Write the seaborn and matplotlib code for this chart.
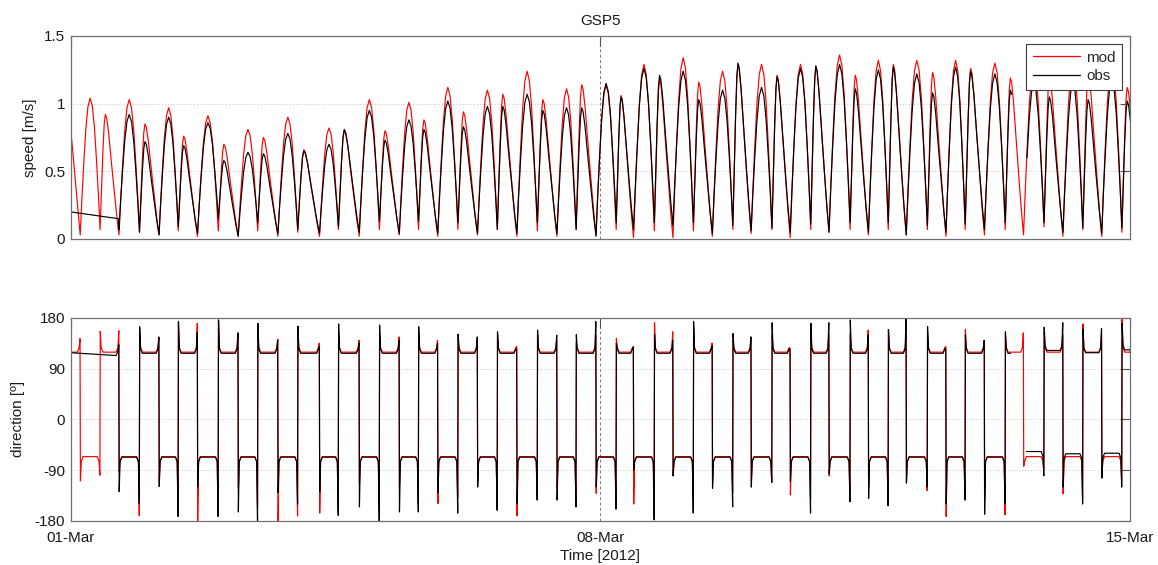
import numpy as np
import pandas as pd
import seaborn as sns
import matplotlib.pyplot as plt
from matplotlib.lines import Line2D

# ---------------------------------------------------------------------------
# Station GSP5, 01-15 March 2012. Time axis in hours after 01-Mar 00:00.
# ---------------------------------------------------------------------------

# slack-water times s0..s53 (last entry s54 lies just past 15-Mar)
slack_hr = [3.0, 9.3, 15.3, 21.8, 28.0, 34.1, 40.2, 46.8, 53.1, 59.3, 65.7, 72.0, 78.9,
            84.9, 91.5, 97.9, 104.2, 110.3, 116.4, 122.8, 129.0, 135.3, 141.5, 148.0, 154.2,
            160.3, 166.6, 173.0,
            178.5, 185.1, 191.0, 197.5, 203.5, 210.0, 215.8, 222.4, 228.2, 234.7, 240.5,
            247.2, 253.0, 259.3,
            265.0, 271.7, 277.6, 283.7, 289.8, 296.4, 302.2, 308.7, 314.7, 321.0, 327.0,
            333.4, 339.4]

# speed at each slack [m/s]
mod_min = [0.03, 0.07, 0.03, 0.05, 0.03, 0.06, 0.02, 0.06, 0.02, 0.06, 0.02, 0.05, 0.02,
           0.07, 0.02, 0.07, 0.03, 0.07, 0.02, 0.07, 0.03, 0.07, 0.02, 0.06, 0.02, 0.07, 0.03, 0.07,
           0.01, 0.06, 0.01, 0.06, 0.02, 0.07, 0.04, 0.07, 0.01, 0.07, 0.05, 0.07, 0.03, 0.07,
           0.03, 0.07, 0.02, 0.07, 0.03, 0.07, 0.03, 0.09, 0.02, 0.07, 0.02, 0.05, 0.03]
obs_min = [np.nan, np.nan, 0.07, 0.05, 0.03, 0.09, 0.04, 0.15, 0.02, 0.12, 0.04, 0.07, 0.04,
           0.09, 0.05, 0.13, 0.04, 0.13, 0.04, 0.12, 0.04, 0.07, 0.04, 0.12, 0.04, 0.07, 0.02, 0.12,
           0.07, 0.12, 0.10, 0.12, 0.04, 0.10, 0.06, 0.08, 0.05, 0.11, 0.05, 0.12, 0.05, 0.12,
           0.03, 0.10, 0.05, 0.11, 0.07, 0.12, 0.05, 0.12, 0.05, 0.08, 0.04, 0.08, 0.05]

# peak speed of each half-cycle k0..k53 (even k = ebb, odd k = flood) [m/s]
mod_peak = [1.04, 0.92, 1.03, 0.85, 0.97, 0.76, 0.91, 0.70, 0.81, 0.75, 0.90, 0.66,
            0.82, 0.80, 1.03, 0.80, 1.01, 0.88, 1.12, 0.94, 1.10, 1.07, 1.24, 1.03, 1.11, 1.14, 1.14,
            1.06, 1.29, 1.18, 1.34, 1.16, 1.24, 1.29, 1.29, 1.21, 1.29, 1.27, 1.36, 1.21, 1.32,
            1.29, 1.32, 1.23, 1.32, 1.26, 1.30, 1.19, 1.28, 1.20, 1.30, 1.22, 1.30, 1.12]
obs_peak = [np.nan, np.nan, 0.92, 0.72, 0.90, 0.69, 0.86, 0.58, 0.64, 0.63, 0.78, 0.65,
            0.70, 0.81, 0.95, 0.73, 0.88, 0.81, 1.02, 0.83, 0.98, 0.98, 1.07, 0.95, 0.97, 0.97, 1.15,
            1.05, 1.26, 1.21, 1.24, 1.03, 1.10, 1.30, 1.12, 1.20, 1.26, 1.28, 1.29, 1.11, 1.25,
            1.27, 1.22, 1.08, 1.27, 1.24, 1.22, 1.10, 1.15, 1.05, 1.15, 1.03, 1.18, 1.02]

# model speed at 01-Mar 00:00 (falling limb of the preceding flood)
mod_speed_start = 0.81

# observed record: gap-filled line before the first sample, and an outage
obs_fill_hr = [0.0]
obs_fill_speed = [0.20, 0.15]
obs_fill_dir = [118.0]
obs_first_slack = 2
obs_gap_hr = (298.6, 302.9)

# arch of a half-cycle: position within the half-cycle and height relative to its peak
ebb_frac = [0.0, 0.08, 0.17, 0.28, 0.39, 0.50, 0.61, 0.72, 0.83, 0.92]
ebb_rel = [0.0, 0.25, 0.50, 0.77, 0.94, 1.00, 0.94, 0.77, 0.50, 0.25]
flood_frac = [0.0, 0.07, 0.15, 0.22, 0.28, 0.35, 0.45, 0.60, 0.75, 0.88]
flood_rel = [0.0, 0.33, 0.68, 0.92, 1.00, 0.97, 0.85, 0.60, 0.36, 0.16]

# current direction [deg]: plateau of each half-cycle k=-1..53
mod_flood_dir = 119.0
mod_ebb_dir = -66.0
obs_dir_level = [np.nan, np.nan, 113.0,
                 -67, 117, -67, 117, -67, 117, -67, 117, -67, 117, -67, 117,
                 -67, 117, -67, 117, -67, 117, -67, 117, -67, 117, -67, 117, -67, 117,
                 -67, 117, -67, 117, -67, 117, -67, 117, -67, 117, -67, 117, -67, 117,
                 -67, 117, -67, 117, -67, 117, -57, 122, -61, 118, -60, 123]
# bend of the plateau towards the overshoot just before / after slack [deg]
dir_bend = 8.0

# direction overshoot on either side of each slack s0..s53
mod_dir_hi = [143, 156, 157, 150, 146, 170, 170, 176, 153, 150, 142, 150, 135,
              150, 140, 150, 146, 150, 140, 145, 138, 150, 129, 150, 140, 135, 150, 143,
              128, 171, 155, 160, 135, 140, 140, 150, 126, 150, 150, 150, 158, 159,
              150, 150, 129, 159, 140, 150, 153, 155, 150, 169, 150, 177]
mod_dir_lo = [-109, -99, -93, -171, -110, -149, -180, -166, -120, -155, -180, -171, -166,
              -160, -113, -150, -120, -150, -149, -140, -112, -150, -171, -130, -120, -140, -131, -140,
              -150, -130, -100, -140, -110, -130, -110, -110, -134, -140, -100, -130, -120, -140,
              -110, -126, -172, -130, -140, -169, -83, -87, -132, -140, -100, -110]
obs_dir_hi = [np.nan, np.nan, 132, 164, 145, 173, 154, 176, 153, 170, 140, 165, 129,
              169, 135, 167, 140, 164, 135, 151, 146, 155, 125, 158, 149, 150, 173, 135,
              129, 150, 140, 173, 130, 152, 146, 171, 124, 170, 171, 176, 150, 159,
              179, 164, 125, 150, 140, 155, np.nan, 163, 171, 160, 161, 170]
obs_dir_lo = [np.nan, np.nan, -128, -149, -119, -172, -120, -172, -164, -180, -130, -150, -128,
              -170, -155, -180, -164, -164, -130, -166, -120, -161, -150, -143, -143, -155, -120, -159,
              -90, -178, -100, -166, -122, -155, -120, -112, -110, -166, -96, -146, -140, -153,
              -113, -120, -150, -143, -168, -150, np.nan, -100, -120, -150, -104, -120]

tick_hr = [0, 168, 336]
tick_labels = ['01-Mar', '08-Mar', '15-Mar']
T_END = 336


def speed_track(mins, peaks):
    t, v = [], []
    for k in range(len(slack_hr) - 1):
        a, b = slack_hr[k], slack_hr[k + 1]
        frac, rel = (ebb_frac, ebb_rel) if k % 2 == 0 else (flood_frac, flood_rel)
        peak_at = frac[rel.index(1.0)]
        for f, r in zip(frac, rel):
            base = mins[k] if f <= peak_at else mins[k + 1]
            t.append(a + f * (b - a))
            v.append(base + r * (peaks[k] - base))
    t.append(slack_hr[-1])
    v.append(mins[-1])
    return t, v


def direction_track(levels, hi, lo, first=0):
    # levels indexed by half-cycle k=-1..53 -> position k+1
    t, d = [], []
    n = len(slack_hr) - 1
    for j in range(first, n):
        s = slack_hr[j]
        before, after = levels[j], levels[j + 1]
        if j % 2 == 0:   # flood -> ebb: swings up, then wraps round to below the ebb plateau
            first_v, second_v = hi[j], lo[j]
            b_bend, a_bend = before + dir_bend, after - dir_bend
        else:            # ebb -> flood
            first_v, second_v = lo[j], hi[j]
            b_bend, a_bend = before - dir_bend, after + dir_bend
        t += [s - 0.9, s - 0.35, s - 0.06, s + 0.06, s + 0.35, s + 0.9]
        d += [before, b_bend, first_v, second_v, a_bend, after]
        nxt = slack_hr[j + 1]
        for f in (0.3, 0.5, 0.7):
            t.append(s + f * (nxt - s))
            d.append(after)
    return t, d


def in_gap(t):
    return obs_gap_hr[0] < t < obs_gap_hr[1]


# ---- speed table
mt, mv = speed_track(mod_min, mod_peak)
mt = [0.0] + mt
mv = [mod_speed_start] + mv
ot, ov = speed_track(obs_min, obs_peak)
keep = [(t, v) for t, v in zip(ot, ov) if not np.isnan(v)]
ot = obs_fill_hr + [slack_hr[obs_first_slack] - 0.15] + [t for t, _ in keep]
ov = obs_fill_speed + [v for _, v in keep]

rows = [dict(hour=t, value=v, series='mod', unit=0) for t, v in zip(mt, mv)]
unit = 0
for t, v in zip(ot, ov):
    if in_gap(t):
        unit = 1
        continue
    rows.append(dict(hour=t, value=v, series='obs', unit=unit))
speed_df = pd.DataFrame(rows)

# ---- direction table
mod_levels = [mod_flood_dir if k % 2 else mod_ebb_dir for k in range(-1, 54)]
dt, dv = direction_track(mod_levels, mod_dir_hi, mod_dir_lo)
dt = [0.0] + dt + [T_END]
dv = [mod_flood_dir] + dv + [mod_levels[-1]]
rows = [dict(hour=t, value=v, series='mod', unit=0) for t, v in zip(dt, dv)]

odt, odv = direction_track(obs_dir_level, obs_dir_hi, obs_dir_lo, first=obs_first_slack)
pts = [(0.0, obs_fill_dir[0])] + [(t, v) for t, v in zip(odt, odv) if not np.isnan(v)]
pts.append((T_END, obs_dir_level[-1]))
unit = 0
for t, v in pts:
    if in_gap(t):
        unit = 1
        continue
    rows.append(dict(hour=t, value=v, series='obs', unit=unit))
dir_df = pd.DataFrame(rows)

# ---- figure
sns.set_style('white')
plt.rcParams['font.family'] = ['Liberation Sans', 'DejaVu Sans']
plt.rcParams['font.size'] = 11

fig = plt.figure(figsize=(11.58, 5.65), dpi=100)
ax1 = fig.add_axes([0.0611, 0.577, 0.9148, 0.3593])
ax2 = fig.add_axes([0.0611, 0.0779, 0.9148, 0.3598])

palette = {'mod': '#ff0000', 'obs': '#000000'}
for ax, df in ((ax1, speed_df), (ax2, dir_df)):
    sns.lineplot(data=df, x='hour', y='value', hue='series', hue_order=['mod', 'obs'],
                 units='unit', estimator=None, sort=False, palette=palette,
                 linewidth=0.85, legend=False, ax=ax)


def style(ax, ylim, yticks, ylabels):
    ax.set_xlim(0, T_END)
    ax.set_ylim(*ylim)
    ax.set_xticks(tick_hr)
    ax.set_xticklabels(tick_labels)
    ax.set_yticks(yticks)
    ax.set_yticklabels(ylabels)
    for sp in ax.spines.values():
        sp.set_visible(True)
        sp.set_color('#707070')
        sp.set_linewidth(0.9)
    ax.tick_params(direction='in', length=7.5, width=0.8, color='#505050',
                   top=True, right=True, labelsize=11, pad=4, labelcolor='#1a1a1a')
    ax.tick_params(axis='x', pad=7)
    ax.grid(True, axis='y', color='#c4c4c4', linestyle=(0, (1, 2)), linewidth=0.7)
    ax.grid(True, axis='x', color='#7a7a7a', linestyle=(0, (3, 2.5)), linewidth=0.7)
    ax.set_axisbelow(True)


style(ax1, (0, 1.5), [0, 0.5, 1, 1.5], ['0', '0.5', '1', '1.5'])
style(ax2, (-180, 180), [-180, -90, 0, 90, 180], ['-180', '-90', '0', '90', '180'])
ax1.tick_params(labelbottom=False)

ax1.set_xlabel('')
ax1.set_ylabel('speed [m/s]', fontsize=11, color='#1a1a1a')
ax1.yaxis.set_label_coords(-0.0318, 0.5)
ax2.set_ylabel('direction [º]', fontsize=11, color='#1a1a1a')
ax2.yaxis.set_label_coords(-0.0431, 0.5)
ax2.set_xlabel('Time [2012]', fontsize=11, color='#1a1a1a', labelpad=3)
ax1.set_title('GSP5', fontsize=11, pad=8, color='#1a1a1a')

handles = [Line2D([], [], color=palette['mod'], lw=0.9),
           Line2D([], [], color=palette['obs'], lw=0.9)]
leg = ax1.legend(handles=handles, labels=['mod', 'obs'], loc='upper right', fontsize=11,
                 frameon=True, fancybox=False, framealpha=1, edgecolor='#3c3c3c',
                 borderpad=0.45, labelspacing=0.3, handlelength=3.1, handletextpad=0.4,
                 borderaxespad=0.5)
leg.get_frame().set_linewidth(0.8)

fig.savefig('out.png', dpi=100)
